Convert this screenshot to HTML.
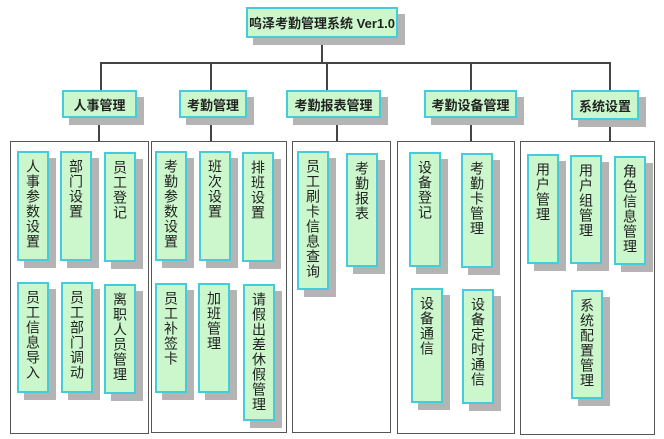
<!DOCTYPE html>
<html><head><meta charset="utf-8"><style>
body{margin:0;width:664px;height:439px;background:#fff;position:relative;overflow:hidden;font-family:"Liberation Sans","Noto Sans CJK SC",sans-serif;}
.b{position:absolute;background:#ccf7cc;border:2px solid #44ccdd;box-sizing:border-box;box-shadow:7px 7px 0 #b4b4b4;color:#222;font-size:13px;}
.h{display:flex;align-items:center;justify-content:center;font-weight:bold;}
.v{writing-mode:vertical-rl;text-orientation:upright;padding-top:6px;line-height:28px;letter-spacing:1px;font-size:14px;}
.c{position:absolute;border:1.5px solid #555;box-sizing:border-box;}
.l{position:absolute;background:#444;}
</style></head><body>
<div class="l" style="left:321px;top:38px;width:1.5px;height:24px"></div>
<div class="l" style="left:100px;top:62px;width:510px;height:1.5px"></div>
<div class="l" style="left:100px;top:62px;width:1.5px;height:28px"></div>
<div class="l" style="left:210px;top:62px;width:1.5px;height:28px"></div>
<div class="l" style="left:326px;top:62px;width:1.5px;height:28px"></div>
<div class="l" style="left:470px;top:62px;width:1.5px;height:28px"></div>
<div class="l" style="left:609px;top:62px;width:1.5px;height:28px"></div>
<div class="l" style="left:98px;top:118px;width:1.5px;height:23px"></div>
<div class="l" style="left:210px;top:118px;width:1.5px;height:23px"></div>
<div class="l" style="left:336px;top:118px;width:1.5px;height:23px"></div>
<div class="l" style="left:470px;top:118px;width:1.5px;height:23px"></div>
<div class="l" style="left:609px;top:118px;width:1.5px;height:23px"></div>
<div class="c" style="left:10px;top:141px;width:139px;height:293px"></div>
<div class="c" style="left:151px;top:141px;width:136px;height:292px"></div>
<div class="c" style="left:292px;top:141px;width:99px;height:292px"></div>
<div class="c" style="left:397px;top:141px;width:118px;height:293px"></div>
<div class="c" style="left:520px;top:141px;width:135px;height:294px"></div>
<div class="b h" style="left:246px;top:7px;width:152px;height:31px">呜泽考勤管理系统 Ver1.0</div>
<div class="b h" style="left:62px;top:90px;width:75px;height:28px">人事管理</div>
<div class="b h" style="left:179px;top:90px;width:68px;height:28px">考勤管理</div>
<div class="b h" style="left:286px;top:90px;width:95px;height:28px">考勤报表管理</div>
<div class="b h" style="left:424px;top:90px;width:93px;height:28px">考勤设备管理</div>
<div class="b h" style="left:571px;top:90px;width:68px;height:30px">系统设置</div>
<div class="b v" style="left:17px;top:151px;width:32px;height:110px">人事参数设置</div>
<div class="b v" style="left:60px;top:151px;width:32px;height:110px">部门设置</div>
<div class="b v" style="left:104px;top:152px;width:32px;height:110px">员工登记</div>
<div class="b v" style="left:17px;top:282px;width:32px;height:111px">员工信息导入</div>
<div class="b v" style="left:61px;top:282px;width:32px;height:111px">员工部门调动</div>
<div class="b v" style="left:104px;top:284px;width:32px;height:110px">离职人员管理</div>
<div class="b v" style="left:155px;top:151px;width:32px;height:110px">考勤参数设置</div>
<div class="b v" style="left:199px;top:151px;width:32px;height:110px">班次设置</div>
<div class="b v" style="left:242px;top:152px;width:32px;height:110px">排班设置</div>
<div class="b v" style="left:155px;top:283px;width:32px;height:110px">员工补签卡</div>
<div class="b v" style="left:198px;top:283px;width:32px;height:110px">加班管理</div>
<div class="b v" style="left:243px;top:284px;width:32px;height:137px">请假出差休假管理</div>
<div class="b v" style="left:297px;top:151px;width:32px;height:139px">员工刷卡信息查询</div>
<div class="b v" style="left:346px;top:153px;width:32px;height:114px">考勤报表</div>
<div class="b v" style="left:409px;top:152px;width:32px;height:115px">设备登记</div>
<div class="b v" style="left:461px;top:153px;width:32px;height:115px">考勤卡管理</div>
<div class="b v" style="left:411px;top:288px;width:32px;height:115px">设备通信</div>
<div class="b v" style="left:462px;top:289px;width:32px;height:115px">设备定时通信</div>
<div class="b v" style="left:527px;top:154px;width:32px;height:110px">用户管理</div>
<div class="b v" style="left:570px;top:155px;width:32px;height:109px">用户组管理</div>
<div class="b v" style="left:614px;top:156px;width:32px;height:109px">角色信息管理</div>
<div class="b v" style="left:571px;top:290px;width:32px;height:109px">系统配置管理</div>
</body></html>
